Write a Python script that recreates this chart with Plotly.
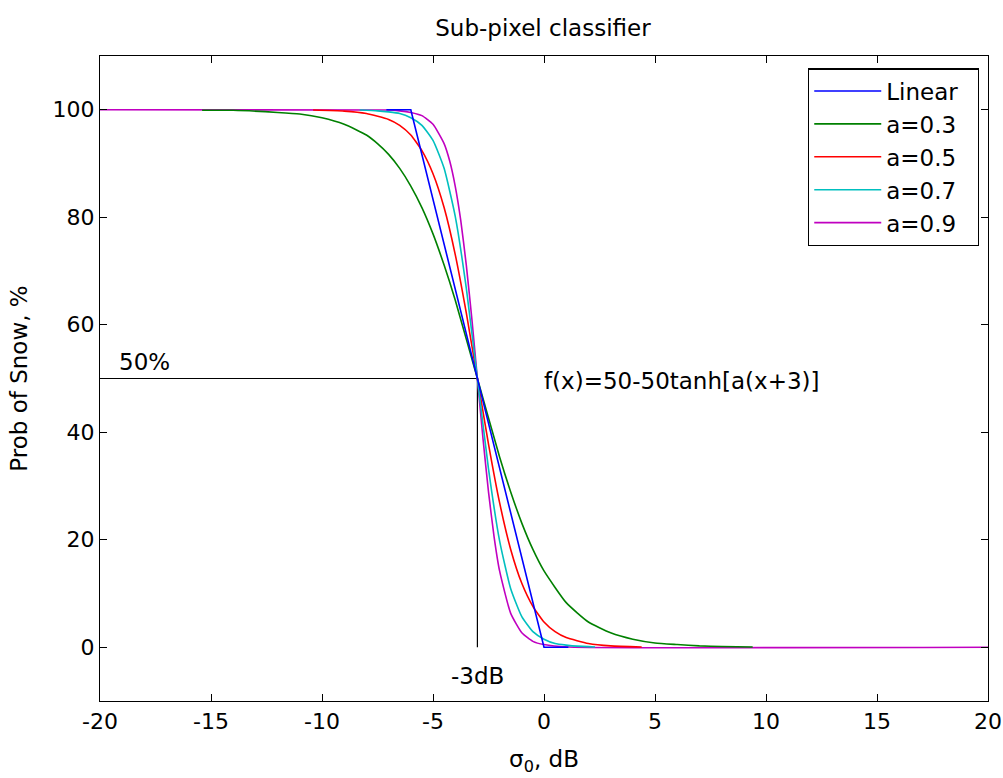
import plotly.graph_objects as go

# ---- data ----
linear_x = [-7.1, -6.0, 0.0, 1.1]
linear_y = [100.0, 100.0, 0.0, 0.0]

a03_x = [-15.4, -14, -12, -11, -10, -9, -8, -7.5, -7, -6.5, -6, -5.5, -5, -4.5, -4, -3, -2, -1.5, -1, -0.5, 0, 1, 2, 3, 4, 5, 6, 7, 8, 9.4]
a03_y = [99.9, 99.9, 99.5, 99.2, 98.5, 97.3, 95.3, 93.7, 91.7, 89.1, 85.8, 81.8, 76.9, 71.1, 64.6, 50.0, 35.4, 28.9, 23.1, 18.2, 14.2, 8.3, 4.7, 2.7, 1.5, 0.8, 0.5, 0.25, 0.13, 0.06]

a05_x = [-10.4, -9, -8, -7, -6.5, -6, -5.5, -5, -4.5, -4, -3.5, -3, -2.5, -2, -1.5, -1, -0.5, 0, 0.5, 1, 2, 3, 4.4]
a05_y = [99.94, 99.75, 99.3, 98.2, 97.1, 95.3, 92.4, 88.1, 81.8, 73.1, 62.2, 50.0, 37.8, 26.9, 18.2, 11.9, 7.6, 4.7, 2.9, 1.8, 0.7, 0.25, 0.06]

a07_x = [-8.3, -7.5, -7, -6.5, -6, -5.5, -5, -4.5, -4, -3.5, -3, -2.5, -2, -1.5, -1, -0.5, 0, 0.5, 1, 1.5, 2.3]
a07_y = [99.94, 99.8, 99.6, 99.3, 98.5, 97.1, 94.3, 89.1, 80.2, 66.8, 50.0, 33.2, 19.8, 10.9, 5.7, 2.9, 1.5, 0.7, 0.4, 0.2, 0.06]

a09_x = [-20, -7.1, -6.5, -6, -5.5, -5, -4.5, -4.25, -4, -3.75, -3.5, -3.25, -3, -2.75, -2.5, -2.25, -2, -1.5, -1, -0.5, 0, 1.1, 20]
a09_y = [100.0, 99.94, 99.8, 99.5, 98.9, 97.3, 93.7, 90.5, 85.8, 79.4, 71.1, 61.1, 50.0, 38.9, 28.9, 20.6, 14.2, 6.3, 2.7, 1.1, 0.5, 0.06, 0.0]

threshold_x = -3
threshold_y = 50
x_min, x_max = -20, 20
y_min, y_max = -10, 110
x_ticks = [-20, -15, -10, -5, 0, 5, 10, 15, 20]
y_ticks = [0, 20, 40, 60, 80, 100]

FONT = "DejaVu Sans, Liberation Sans, Arial, sans-serif"
FS = 23
TFS = 22
PAD = "\u00a0\u00a0"

fig = go.Figure()

# reference lines (50% / -3 dB)
fig.add_trace(go.Scatter(x=[x_min, threshold_x, threshold_x], y=[threshold_y, threshold_y, 0],
                         mode="lines", line=dict(color="black", width=1.2),
                         showlegend=False, hoverinfo="skip"))

series = [
    ("a=0.9", a09_x, a09_y, "#C000C0", 5),
    ("a=0.3", a03_x, a03_y, "#008000", 2),
    ("a=0.5", a05_x, a05_y, "#FF0000", 3),
    ("a=0.7", a07_x, a07_y, "#00BFBF", 4),
    ("Linear", linear_x, linear_y, "#0000FF", 1),
]
for name, xs, ys, col, rank in series:
    shape = "linear" if name == "Linear" else "spline"
    fig.add_trace(go.Scatter(x=xs, y=ys, mode="lines", name=name + PAD,
                             line=dict(color=col, width=1.6, shape=shape, smoothing=0.5),
                             legendrank=rank))

fig.add_annotation(x=-18.0, y=threshold_y, yshift=17, text="50%", showarrow=False,
                   font=dict(family=FONT, size=FS, color="black"))
fig.add_annotation(x=threshold_x, y=-5.4, text="-3dB", showarrow=False,
                   font=dict(family=FONT, size=FS, color="black"))
fig.add_annotation(x=-0.1, y=49.5, xanchor="left", text="f(x)=50-50tanh[a(x+3)]", showarrow=False,
                   font=dict(family=FONT, size=FS, color="black"))

axis_common = dict(showline=True, linecolor="black", linewidth=1.3, mirror="ticks",
                   ticks="inside", ticklen=7, tickcolor="black", tickwidth=1.2,
                   showgrid=False, zeroline=False, automargin=False,
                   tickfont=dict(family=FONT, size=TFS, color="black"))

fig.update_xaxes(range=[x_min, x_max], tickvals=x_ticks, ticktext=[str(t) for t in x_ticks],
                 title=dict(text="σ<sub>0</sub>, dB", font=dict(family=FONT, size=FS, color="black"), standoff=18),
                 **axis_common)
fig.update_yaxes(range=[y_min, y_max], tickvals=y_ticks, ticktext=[str(t) for t in y_ticks],
                 title=dict(text="Prob of Snow, %", font=dict(family=FONT, size=FS, color="black"), standoff=18),
                 **axis_common)

fig.update_layout(
    width=1003, height=778,
    margin=dict(l=100, r=15, t=56, b=77),
    paper_bgcolor="white", plot_bgcolor="white",
    title=dict(text="Sub-pixel classifier", x=0.5413, xanchor="center", y=0.964, yref="container",
               yanchor="middle", font=dict(family=FONT, size=FS, color="black")),
    legend=dict(x=0.9898, xanchor="right", y=0.981, yanchor="top",
                bgcolor="white", bordercolor="black", borderwidth=1.3, itemwidth=67,
                font=dict(family=FONT, size=FS, color="black"), traceorder="normal"),
    showlegend=True,
)

fig.write_html("out.html")
